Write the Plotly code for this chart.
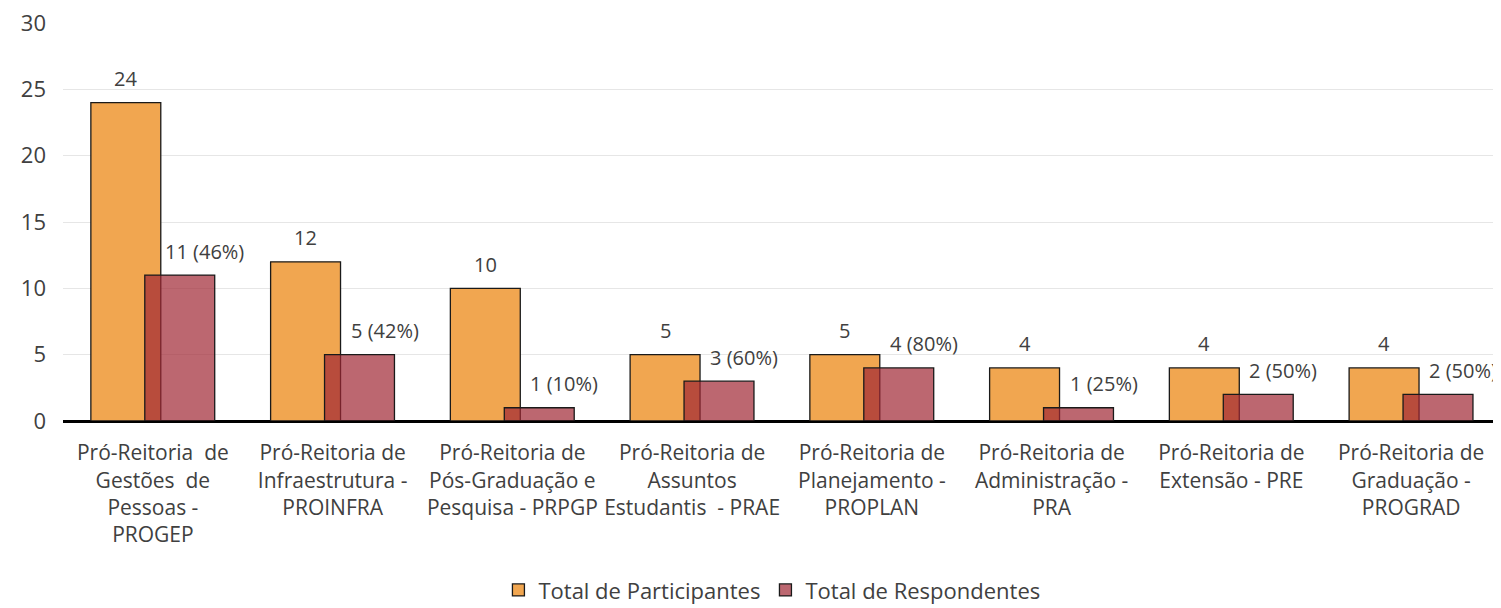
import plotly.graph_objects as go

categories = [
    "Pró-Reitoria  de<br>Gestões  de<br>Pessoas -<br>PROGEP",
    "Pró-Reitoria de<br>Infraestrutura -<br>PROINFRA",
    "Pró-Reitoria de<br>Pós-Graduação e<br>Pesquisa - PRPGP",
    "Pró-Reitoria de<br>Assuntos<br>Estudantis  - PRAE",
    "Pró-Reitoria de<br>Planejamento -<br>PROPLAN",
    "Pró-Reitoria de<br>Administração -<br>PRA",
    "Pró-Reitoria de<br>Extensão - PRE",
    "Pró-Reitoria de<br>Graduação -<br>PROGRAD",
]
participantes = [24, 12, 10, 5, 5, 4, 4, 4]
respondentes = [11, 5, 1, 3, 4, 1, 2, 2]
y_ticks = [0, 5, 10, 15, 20, 25, 30]

FONT = "Open Sans"
TXT = "#404040"
ORANGE = "rgb(241,166,80)"
RED = "rgba(159,39,51,0.7)"

fig = go.Figure()
fig.add_trace(go.Bar(
    x=categories, y=participantes, name="Total de Participantes",
    marker=dict(color=ORANGE, line=dict(color="#1a1a1a", width=1.3)),
    width=0.389, offset=-0.345,
))
fig.add_trace(go.Bar(
    x=categories, y=respondentes, name="Total de Respondentes",
    marker=dict(color=RED, line=dict(color="#1a1a1a", width=1.3)),
    width=0.389, offset=-0.045,
))

for c, p, r in zip(categories, participantes, respondentes):
    fig.add_annotation(x=c, y=p, text=str(p), showarrow=False,
                       xshift=-27, yshift=24, yanchor="middle",
                       font=dict(family=FONT, size=20, color=TXT))
    fig.add_annotation(x=c, y=r, text=f"{r} ({round(r / p * 100)}%)", showarrow=False,
                       xshift=52, yshift=24, yanchor="middle",
                       font=dict(family=FONT, size=20, color=TXT))

# page body adds an 8px margin; figure is sized so that the visible layout matches
fig.update_layout(
    width=1493, height=600,
    margin=dict(l=55, r=0, t=15, b=187, autoexpand=False),
    barmode="overlay",
    plot_bgcolor="white", paper_bgcolor="white",
    font=dict(family=FONT, size=21, color=TXT),
    showlegend=True,
    legend=dict(orientation="h", x=0.493, xanchor="center", y=-0.425, yanchor="middle",
                font=dict(family=FONT, size=22, color=TXT), itemwidth=30,
                traceorder="normal"),
)
fig.update_xaxes(
    type="category", range=[-0.5, 7.5], showline=True, linecolor="black", linewidth=2,
    ticks="", tickfont=dict(family=FONT, size=21, color=TXT), tickangle=0,
    automargin=False, ticklabelstandoff=12, ticklabeloverflow="allow",
)
fig.update_yaxes(
    range=[0, 30], tickvals=y_ticks, showgrid=True, gridcolor="#E6E6E6", gridwidth=1,
    zeroline=True, zerolinecolor="black", zerolinewidth=2, automargin=False,
    ticks="", ticklabelstandoff=16, tickfont=dict(family=FONT, size=22, color=TXT),
    ticklabeloverflow="allow",
)

fig.write_html("out.html")
